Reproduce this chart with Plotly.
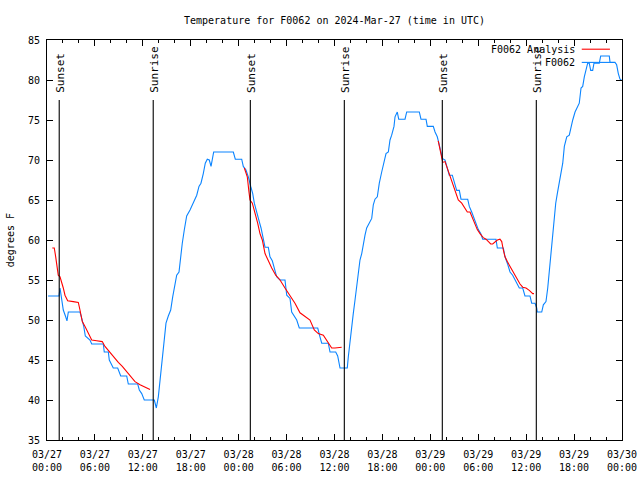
import pandas as pd
import plotly.graph_objects as go

START = pd.Timestamp("2024-03-27 00:00")

# Observed station temperatures (hours after 03/27 00:00 UTC, degrees F)
obs_hours = [0.13, 1.50, 1.63, 1.84, 2.04, 2.34, 2.50, 2.67, 4.13, 4.35, 4.60, 4.80, 5.38, 5.60, 7.05, 7.17, 7.68, 7.80,
             8.30, 8.85, 9.23, 9.98, 10.18, 11.36, 11.56, 11.86, 12.18, 13.44, 13.69, 13.94, 14.15, 14.40, 14.65, 14.90,
             15.19, 15.49, 15.74, 16.03, 16.24, 16.53, 16.74, 16.94, 17.19, 17.49, 17.91, 18.12, 18.44, 18.75, 19.03,
             19.28, 19.57, 19.82, 20.07, 20.32, 20.54, 20.75, 20.87, 23.33, 23.58, 24.38, 24.58, 24.92, 25.21, 25.51,
             25.76, 25.96, 26.26, 26.58, 26.80, 27.08, 27.30, 27.71, 27.92, 28.21, 28.46, 28.76, 29.18, 29.80, 30.02,
             30.43, 30.64, 30.97, 31.27, 31.59, 33.90, 34.18, 34.40, 35.22, 35.44, 36.15, 36.40, 36.69, 37.60, 37.73,
             37.94, 38.15, 38.35, 38.57, 38.78, 38.98, 39.19, 39.41, 39.61, 39.82, 40.03, 40.36, 40.66, 40.86, 41.07,
             41.36, 41.61, 41.91, 42.20, 42.45, 42.74, 42.95, 43.16, 43.45, 43.58, 43.86, 44.04, 44.83, 45.04, 46.62,
             46.83, 47.46, 47.62, 48.37, 48.59, 48.87, 49.12, 49.34, 49.50, 49.84, 50.05, 50.37, 50.75, 50.96, 51.30,
             51.63, 51.84, 52.68, 52.88, 53.18, 53.47, 53.72, 54.01, 54.31, 54.56, 56.22, 56.39, 57.14, 57.35, 57.64,
             57.98, 58.31, 58.60, 58.89, 59.14, 59.57, 59.85, 60.48, 60.69, 61.11, 61.32, 61.39, 61.95, 62.15, 62.48,
             62.70, 62.86, 63.07, 63.27, 63.49, 63.70, 63.90, 64.11, 64.33, 64.58, 64.78, 65.08, 65.40, 65.61, 65.83,
             66.12, 66.40, 66.65, 66.87, 67.08, 67.28, 67.49, 67.70, 67.90, 68.08, 68.33, 68.49, 69.16, 69.33, 70.41,
             70.50, 71.12, 71.33, 71.54, 71.75, 71.93]
obs_temps = [53.0, 53.0, 54.0, 52.4, 51.25, 50.4, 49.9, 51.0, 51.0, 50.2, 49.2, 48.0, 47.5, 47.0, 47.0, 46.0, 46.0, 45.0,
             44.0, 44.0, 43.0, 43.0, 42.0, 42.0, 41.25, 40.8, 40.0, 40.0, 39.0, 40.4, 42.5, 45.2, 47.5, 49.6,
             50.5, 51.25, 52.9, 54.6, 55.6, 56.0, 58.3, 59.6, 61.25, 63.0, 63.75, 64.2, 64.8, 65.6, 66.7,
             67.1, 68.3, 69.6, 70.1, 70.0, 69.2, 70.6, 71.0, 71.0, 70.1, 70.1, 69.2, 68.75, 67.9, 66.7,
             65.8, 64.6, 63.3, 62.3, 61.5, 60.2, 59.1, 59.1, 57.9, 57.4, 56.5, 55.4, 55.0, 55.0, 53.1,
             52.7, 51.0, 50.4, 50.0, 49.0, 49.0, 47.9, 47.1, 47.1, 46.0, 46.0, 45.5, 44.0, 44.0, 45.4,
             47.5, 49.2, 50.8, 52.5, 54.4, 56.25, 57.5, 58.3, 59.6, 60.6, 61.5, 62.1, 62.7, 64.4, 65.1,
             65.4, 67.1, 68.5, 69.8, 70.8, 71.0, 72.5, 73.1, 74.2, 75.4, 76.0, 75.1, 75.1, 76.0, 76.0,
             75.1, 75.1, 74.2, 74.2, 73.5, 72.9, 71.9, 70.8, 70.2, 70.0, 69.2, 68.1, 68.1, 67.3, 66.2,
             66.2, 65.1, 65.1, 64.2, 63.5, 62.7, 62.1, 61.3, 60.8, 60.1, 60.1, 59.0, 59.0, 57.9, 57.1,
             56.0, 55.6, 55.0, 54.5, 54.0, 54.0, 53.0, 53.0, 52.1, 52.1, 51.5, 51.0, 51.0, 51.9, 52.3,
             54.0, 55.8, 58.3, 60.0, 62.5, 64.6, 65.8, 67.1, 68.3, 69.6, 71.7, 72.9, 73.1, 74.2, 75.0,
             76.0, 76.7, 77.1, 79.0, 79.2, 80.4, 81.25, 82.1, 82.1, 81.2, 81.2, 82.1, 82.1, 83.0, 83.0,
             82.2, 82.2, 81.9, 80.8, 80.1, 80.0]

# Analysis temperatures (three night-time segments, None = gap)
ana_hours = [0.66, 0.91, 1.09, 1.25, 1.41, 1.63, 1.84, 2.04, 2.25, 2.59, 3.29, 3.92, 4.13, 4.42, 4.76, 5.17, 5.60, 6.22,
             6.92, 7.26, 7.68, 8.10, 8.51, 8.93, 9.43, 9.98, 10.52, 11.02, 11.65, 12.27, 12.90, None,
             24.71, 25.08, 25.29, 25.42, 25.71, 26.04, 26.38, 26.67, 26.96, 27.30, 27.71, 28.14, 28.64, 29.18, 29.80,
             30.43, 31.05, 31.68, 32.31, 32.93, 33.47, 33.97, 34.60, 35.15, 35.65, 36.06, 36.60, 36.90, None,
             48.99, 49.34, 49.55, 49.84, 50.05, 50.46, 50.80, 51.09, 51.50, 51.93, 52.34, 52.63, 52.97, 53.31, 53.59,
             53.88, 54.22, 54.63, 54.97, 55.26, 55.56, 55.81, 56.10, 56.39, 56.72, 56.94, 57.14, 57.35, 57.64, 57.98,
             58.31, 58.60, 58.93, 59.23, 59.57, 59.98, 60.39, 60.82, 60.98]
ana_temps = [59.0, 59.0, 57.9, 56.7, 55.6, 55.4, 54.8, 54.0, 53.1, 52.4, 52.3, 52.2, 51.25, 49.8, 49.2, 48.3, 47.5, 47.4,
             47.3, 46.7, 46.2, 45.6, 45.2, 44.7, 44.2, 43.5, 42.9, 42.3, 41.9, 41.6, 41.3, None,
             69.0, 67.9, 66.0, 65.0, 64.6, 63.5, 62.1, 60.8, 60.0, 58.3, 57.3, 56.5, 55.6, 55.0, 54.0,
             53.1, 52.1, 50.9, 50.4, 50.0, 48.75, 48.3, 48.1, 47.3, 46.5, 46.5, 46.6, 46.6, None,
             72.4, 70.4, 69.7, 69.8, 69.2, 67.9, 67.1, 66.0, 65.0, 64.6, 63.9, 63.5, 63.5, 62.7, 61.9,
             61.3, 60.8, 60.3, 60.1, 59.8, 59.5, 59.5, 59.8, 60.0, 60.1, 59.8, 58.75, 57.9, 57.3, 56.7,
             56.0, 55.6, 55.0, 54.5, 54.1, 54.0, 53.7, 53.3, 53.3]

# Sun events (hours after start)
event_names = ["Sunset", "Sunrise", "Sunset", "Sunrise", "Sunset", "Sunrise"]
event_hours = [1.53, 13.30, 25.46, 37.23, 49.50, 61.27]

y_min, y_max = 35, 85
event_line_top = 77.5
event_label_base = 78.3


def to_time(hs):
    return [START + pd.Timedelta(hours=h) if h is not None else None for h in hs]


FONT = "DejaVu Sans Mono"
BLUE = "#0a84ff"
RED = "#ff0000"

fig = go.Figure()
fig.add_trace(go.Scatter(x=to_time(obs_hours), y=obs_temps, mode="lines", name="F0062",
                         line=dict(color=BLUE, width=1.1), showlegend=False))
fig.add_trace(go.Scatter(x=to_time(ana_hours), y=ana_temps, mode="lines", name="F0062 Analysis",
                         line=dict(color=RED, width=1.1), connectgaps=False, showlegend=False))

for name, h in zip(event_names, event_hours):
    t = START + pd.Timedelta(hours=h)
    fig.add_shape(type="line", xref="x", yref="y", x0=t, x1=t, y0=y_min, y1=event_line_top,
                  line=dict(color="black", width=1.1))
    fig.add_annotation(x=t, y=event_label_base, xref="x", yref="y", text=name, textangle=-90,
                       showarrow=False, xanchor="center", yanchor="bottom", xshift=1, borderpad=0,
                       font=dict(family=FONT, size=11, color="black"))

# gnuplot-style legend (text left, sample right)
legend_items = [("F0062 Analysis", RED, 0.977), ("F0062", BLUE, 0.944)]
for label, col, yy in legend_items:
    fig.add_annotation(x=0.920, y=yy, xref="paper", yref="paper", text=label, showarrow=False,
                       xanchor="right", yanchor="middle", borderpad=0,
                       font=dict(family=FONT, size=10, color="black"))
    fig.add_shape(type="line", xref="paper", yref="paper", x0=0.930, x1=0.979, y0=yy, y1=yy,
                  line=dict(color=col, width=1.1))

fig.add_annotation(x=-0.064, y=0.5, xref="paper", yref="paper", text="degrees F", textangle=-90,
                   showarrow=False, xanchor="center", yanchor="middle",
                   font=dict(family=FONT, size=10, color="black"))

fig.update_layout(
    width=640, height=480,
    margin=dict(l=47, r=18, t=40, b=40, autoexpand=False),
    paper_bgcolor="white", plot_bgcolor="white",
    font=dict(family=FONT, size=10, color="black"),
    title=dict(text="Temperature for F0062 on 2024-Mar-27 (time in UTC)", x=0.5, xref="paper",
               xanchor="center", y=1 - 20 / 480, yanchor="middle",
               font=dict(family=FONT, size=10, color="black")),
    showlegend=False,
)
fig.update_xaxes(
    type="date", range=[START, START + pd.Timedelta(hours=72)],
    dtick=6 * 3600 * 1000, tick0=START, tickformat="%m/%d<br>%H:%M",
    showgrid=False, zeroline=False, showline=True, linecolor="black", linewidth=1,
    mirror="allticks", ticks="inside", ticklen=6, tickcolor="black", ticklabelstandoff=5,
    minor=dict(dtick=2 * 3600 * 1000, ticks="inside", ticklen=3, tickcolor="black", showgrid=False),
    tickfont=dict(family=FONT, size=10, color="black"),
)
fig.update_yaxes(
    range=[y_min, y_max], dtick=5, tick0=35,
    showgrid=False, zeroline=False, showline=True, linecolor="black", linewidth=1,
    mirror="allticks", ticks="inside", ticklen=6, tickcolor="black", ticklabelstandoff=4,
    tickfont=dict(family=FONT, size=10, color="black"),
)

fig.write_html("out.html", config={"displayModeBar": False},
               post_script="document.body.style.margin='0';document.body.style.overflow='hidden';")
